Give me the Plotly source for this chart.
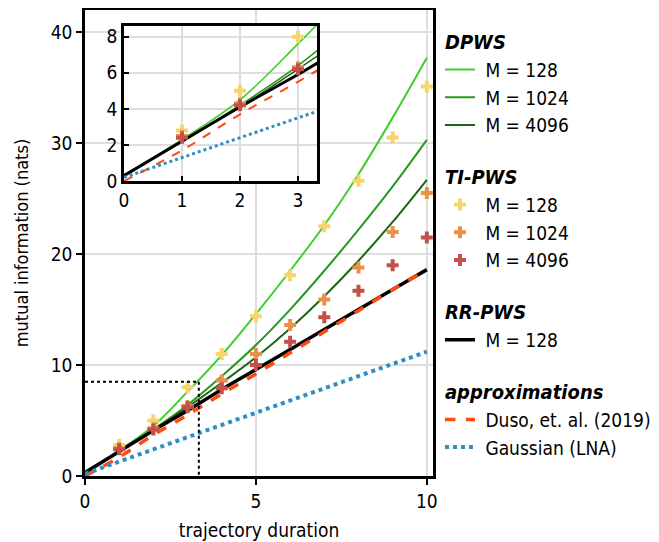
import plotly.graph_objects as go

FONT = "DejaVu Sans Condensed, Liberation Sans Narrow, Roboto, sans-serif"
PAD = "\u00a0"

# ---- data ----
t_curve = [0, 1, 2, 3, 4, 5, 6, 7, 8, 9, 10]
dpws_128 = [0.3, 2.3, 4.5, 7.6, 10.9, 14.6, 18.5, 22.6, 27.2, 32.3, 37.7]
dpws_1024 = [0.3, 2.2, 4.2, 6.4, 9.0, 11.8, 15.0, 18.5, 22.2, 26.1, 30.3]
dpws_4096 = [0.3, 2.2, 4.1, 6.2, 8.4, 10.7, 13.3, 16.2, 19.4, 22.9, 26.7]
rr_128 = [0.3, 2.2, 4.1, 5.9, 7.8, 9.6, 11.4, 13.2, 15.0, 16.8, 18.6]
duso = [0.0, 1.7, 3.7, 5.5, 7.4, 9.2, 11.1, 13.0, 14.9, 16.8, 18.6]
gauss = [0.2, 1.3, 2.4, 3.5, 4.6, 5.7, 6.8, 7.9, 9.0, 10.1, 11.2]

t_marker = [1, 2, 3, 4, 5, 6, 7, 8, 9, 10]
ti_128 = [2.8, 5.0, 8.0, 11.0, 14.4, 18.1, 22.5, 26.6, 30.5, 35.1]
ti_1024 = [2.5, 4.3, 6.3, 8.6, 11.0, 13.6, 15.9, 18.8, 22.0, 25.5]
ti_4096 = [2.4, 4.2, 6.2, 7.9, 10.0, 12.1, 14.3, 16.7, 19.0, 21.5]

inset_x_max = 3.33
inset_y_max = 8.6
zoom_box_y = 8.5

C_G1, C_G2, C_G3 = "#3fcf2a", "#259a1f", "#1b6614"
C_Y, C_O, C_R = "#f7d46c", "#e9914b", "#c4504a"
C_DUSO, C_GAUSS = "#ff4a12", "#2f8ec4"

fig = go.Figure()

def add_set(xa, ya, inset):
    sl = not inset
    gw = 1.6 if inset else 2
    bw = 3 if inset else 3.5
    dw = 2 if inset else 3.5
    ow = 3 if inset else 4
    ms = 10
    fig.add_trace(go.Scatter(x=t_curve, y=dpws_128, mode="lines", line=dict(color=C_G1, width=gw, shape="spline"),
                             name=PAD + "M = 128", legendgroup="dpws", legendgrouptitle_text="<b><i>DPWS</i></b>",
                             showlegend=sl, legendrank=1, xaxis=xa, yaxis=ya))
    fig.add_trace(go.Scatter(x=t_curve, y=dpws_1024, mode="lines", line=dict(color=C_G2, width=gw, shape="spline"),
                             name=PAD + "M = 1024", legendgroup="dpws", showlegend=sl, legendrank=2, xaxis=xa, yaxis=ya))
    fig.add_trace(go.Scatter(x=t_curve, y=dpws_4096, mode="lines", line=dict(color=C_G3, width=gw, shape="spline"),
                             name=PAD + "M = 4096", legendgroup="dpws", showlegend=sl, legendrank=3, xaxis=xa, yaxis=ya))
    fig.add_trace(go.Scatter(x=t_curve, y=rr_128, mode="lines", line=dict(color="black", width=bw, shape="spline"),
                             name=PAD + "M = 128", legendgroup="rr", legendgrouptitle_text="<b><i>RR-PWS</i></b>",
                             showlegend=sl, legendrank=7, xaxis=xa, yaxis=ya))
    fig.add_trace(go.Scatter(x=t_curve, y=duso, mode="lines", line=dict(color=C_DUSO, width=dw, dash="dash", shape="spline"),
                             name=PAD + "Duso, et. al. (2019)", legendgroup="approx",
                             legendgrouptitle_text="<b><i>approximations</i></b>",
                             showlegend=sl, legendrank=8, xaxis=xa, yaxis=ya))
    fig.add_trace(go.Scatter(x=t_curve, y=gauss, mode="lines", line=dict(color=C_GAUSS, width=ow, dash="dot"),
                             name=PAD + "Gaussian (LNA)", legendgroup="approx", showlegend=sl, legendrank=9,
                             xaxis=xa, yaxis=ya))
    for vals, col, nm, rk in [(ti_128, C_Y, "M = 128", 4), (ti_1024, C_O, "M = 1024", 5), (ti_4096, C_R, "M = 4096", 6)]:
        kw = dict(legendgrouptitle_text="<b><i>TI-PWS</i></b>") if rk == 4 else {}
        fig.add_trace(go.Scatter(x=t_marker, y=vals, mode="markers",
                                 marker=dict(symbol="cross", size=ms, color=col, line=dict(width=0)),
                                 name=PAD + nm, legendgroup="ti", showlegend=sl, legendrank=rk,
                                 xaxis=xa, yaxis=ya, **kw))

add_set("x", "y", False)

# zoom box in main plot
fig.add_trace(go.Scatter(x=[0, inset_x_max, inset_x_max], y=[zoom_box_y, zoom_box_y, 0], mode="lines",
                         line=dict(color="black", width=2, dash="dot"), showlegend=False, hoverinfo="skip"))

add_set("x2", "y2", True)

axis_common = dict(showline=True, linecolor="black", linewidth=2.5, mirror=True, automargin=False,
                   showgrid=True, gridcolor="#dedede", gridwidth=2, zeroline=False,
                   tickcolor="black", tickwidth=2, tickfont=dict(size=19, color="black"))

fig.update_layout(
    width=651, height=534,
    margin=dict(l=77, r=226, t=2, b=66),
    paper_bgcolor="white", plot_bgcolor="white",
    font=dict(family=FONT, size=19, color="black"),
    xaxis=dict(range=[0, 10.18], tickvals=[0, 5, 10], ticks="outside", ticklen=6,
               title=dict(text="trajectory duration", font=dict(size=19), standoff=14), **axis_common),
    yaxis=dict(range=[0, 42], tickvals=[0, 10, 20, 30, 40], ticks="outside", ticklen=6,
               title=dict(text="mutual information (nats)", font=dict(size=18), standoff=18), **axis_common),
    xaxis2=dict(domain=[0.112, 0.667], anchor="y2", range=[0, inset_x_max], tickvals=[0, 1, 2, 3],
                ticks="inside", ticklen=5, **axis_common),
    yaxis2=dict(domain=[0.633, 0.966], anchor="x2", range=[0, inset_y_max], tickvals=[0, 2, 4, 6, 8],
                ticks="inside", ticklen=5, **axis_common),
    legend=dict(x=1.02, y=0.975, xanchor="left", yanchor="top", traceorder="grouped",
                tracegroupgap=23, font=dict(size=19), grouptitlefont=dict(size=20),
                bgcolor="rgba(0,0,0,0)"),
    showlegend=True,
)

fig.write_html("out.html")
